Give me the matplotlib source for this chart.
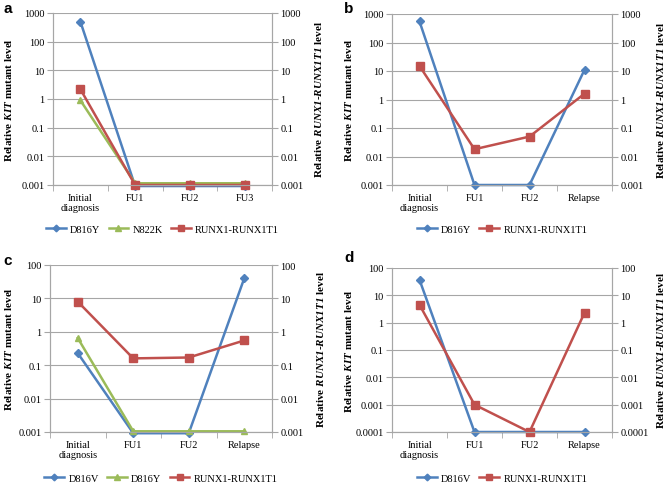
import matplotlib
matplotlib.use("Agg")
import matplotlib.pyplot as plt
from matplotlib.ticker import FixedLocator

plt.rcParams['font.family'] = ['Liberation Serif', 'DejaVu Serif']
plt.rcParams['mathtext.fontset'] = 'custom'
plt.rcParams['mathtext.rm'] = 'Liberation Serif'
plt.rcParams['mathtext.it'] = 'Liberation Serif:italic'
plt.rcParams['mathtext.bf'] = 'Liberation Serif:bold'
plt.rcParams['mathtext.bfit'] = 'Liberation Serif:bold:italic'

BLUE = '#4F81BD'
RED = '#C0504D'
GREEN = '#9BBB59'

# panel data
cats_a = ['Initial\ndiagnosis', 'FU1', 'FU2', 'FU3']
a_d816y = [500, 0.00092, 0.00092, 0.00092]
a_n822k = [0.9, 0.00115, 0.00115, 0.00115]
a_runx1 = [2.2, 0.001, 0.001, 0.001]

cats_b = ['Initial\ndiagnosis', 'FU1', 'FU2', 'Relapse']
b_d816y = [550, 0.001, 0.001, 11]
b_runx1 = [15, 0.018, 0.05, 1.6]

cats_c = ['Initial\ndiagnosis', 'FU1', 'FU2', 'Relapse']
c_d816v = [0.23, 0.00092, 0.00092, 40]
c_d816y = [0.65, 0.00105, 0.00105, 0.00105]
c_runx1 = [8, 0.16, 0.17, 0.55]

cats_d = ['Initial\ndiagnosis', 'FU1', 'FU2', 'Relapse']
d_d816v = [37, 0.0001, 0.0001, 0.0001]
d_runx1 = [4.5, 0.001, 0.0001, 2.3]

ticks_1000 = [0.001, 0.01, 0.1, 1, 10, 100, 1000]
labels_1000 = ['0.001', '0.01', '0.1', '1', '10', '100', '1000']
ticks_100 = [0.001, 0.01, 0.1, 1, 10, 100]
labels_100 = ['0.001', '0.01', '0.1', '1', '10', '100']
ticks_d = [0.0001, 0.001, 0.01, 0.1, 1, 10, 100]
labels_d = ['0.0001', '0.001', '0.01', '0.1', '1', '10', '100']

FS = 7.5
LFS = 8
GRID = '#A6A6A6'
W, H = 668.0, 485.0


def panel(px, letter, cats, series, yticks, ylabels, leg_y, letter_xy,
          ylab_x, ylab2_x):
    # px = (left, top, right, bottom) in pixels
    l, t, r, b = px
    ax = fig.add_axes([l / W, 1 - b / H, (r - l) / W, (b - t) / H])
    ax.set_yscale('log')
    ax.set_ylim(yticks[0], yticks[-1])
    ax.set_xlim(0, len(cats))
    x = [i + 0.5 for i in range(len(cats))]
    handles = []
    for vals, color, marker, ms, name in series:
        h, = ax.plot(x, vals, color=color, lw=1.8, marker=marker, ms=ms,
                     clip_on=False, zorder=3, label=name)
        handles.append(h)
    ax.yaxis.set_major_locator(FixedLocator(yticks))
    ax.yaxis.set_minor_locator(FixedLocator([]))
    ax.set_yticklabels(ylabels, fontsize=FS)
    ax.set_xticks(x)
    ax.set_xticklabels(cats, fontsize=FS, linespacing=1.05)
    ax.set_xticks(range(len(cats) + 1), minor=True)
    ax.tick_params(axis='x', which='major', length=0, pad=6)
    ax.tick_params(axis='x', which='minor', length=4, color=GRID)
    ax.tick_params(axis='y', length=4, color=GRID, pad=2)
    ax.grid(axis='y', color=GRID, lw=0.8)
    ax.set_axisbelow(True)
    ax.spines['top'].set_visible(False)
    for s in ['left', 'right', 'bottom']:
        ax.spines[s].set_color(GRID)
    ax.set_ylabel(r'Relative $\mathbfit{KIT}$ mutant level', fontsize=LFS,
                  fontweight='bold')
    ax.yaxis.set_label_coords(ylab_x / W, 0.5, transform=fig.transFigure)

    ax2 = ax.twinx()
    ax2.set_yscale('log')
    ax2.set_ylim(yticks[0], yticks[-1])
    ax2.yaxis.set_major_locator(FixedLocator(yticks))
    ax2.yaxis.set_minor_locator(FixedLocator([]))
    ax2.set_yticklabels(ylabels, fontsize=FS)
    ax2.tick_params(axis='y', length=4, color=GRID, pad=2)
    ax2.spines['top'].set_visible(False)
    for s in ['left', 'right', 'bottom']:
        ax2.spines[s].set_color(GRID)
    ax2.set_ylabel(r'Relative $\mathbfit{RUNX1}$-$\mathbfit{RUNX1T1}$ level',
                   fontsize=LFS, fontweight='bold', rotation=90)
    ax2.yaxis.set_label_coords(ylab2_x / W, 0.5, transform=fig.transFigure)
    # keep vertical center at the axes middle
    ax.yaxis.label.set_y(1 - (t + b) / 2 / H)
    ax2.yaxis.label.set_y(1 - (t + b) / 2 / H)

    fig.legend(handles=handles, loc='center', ncol=len(handles),
               bbox_to_anchor=((l + r) / 2 / W, 1 - leg_y / H),
               frameon=False, fontsize=FS, handlelength=1.9,
               columnspacing=0.8, handletextpad=0.4, markerscale=0.85)
    fig.text(letter_xy[0] / W, 1 - letter_xy[1] / H, letter,
             fontsize=11, fontweight='bold', family='Liberation Sans',
             va='center', ha='left')
    return ax


fig = plt.figure(figsize=(6.68, 4.85), dpi=100)

panel((53, 14, 272, 186), 'a', cats_a,
      [(a_d816y, BLUE, 'D', 4, 'D816Y'),
       (a_n822k, GREEN, '^', 5, 'N822K'),
       (a_runx1, RED, 's', 5.5, 'RUNX1-RUNX1T1')],
      ticks_1000, labels_1000, 230, (3, 9), 14, 313)

panel((392, 15, 612, 186), 'b', cats_b,
      [(b_d816y, BLUE, 'D', 4, 'D816Y'),
       (b_runx1, RED, 's', 5.5, 'RUNX1-RUNX1T1')],
      ticks_1000, labels_1000, 230, (344, 9), 354, 655)

panel((50, 266, 272, 433), 'c', cats_c,
      [(c_d816v, BLUE, 'D', 4, 'D816V'),
       (c_d816y, GREEN, '^', 5, 'D816Y'),
       (c_runx1, RED, 's', 5.5, 'RUNX1-RUNX1T1')],
      ticks_100, labels_100, 479, (3, 261), 14, 315)

panel((392, 269, 612, 433), 'd', cats_d,
      [(d_d816v, BLUE, 'D', 4, 'D816V'),
       (d_runx1, RED, 's', 5.5, 'RUNX1-RUNX1T1')],
      ticks_d, labels_d, 479, (344, 258), 354, 655)

fig.savefig('out.png', dpi=100)
